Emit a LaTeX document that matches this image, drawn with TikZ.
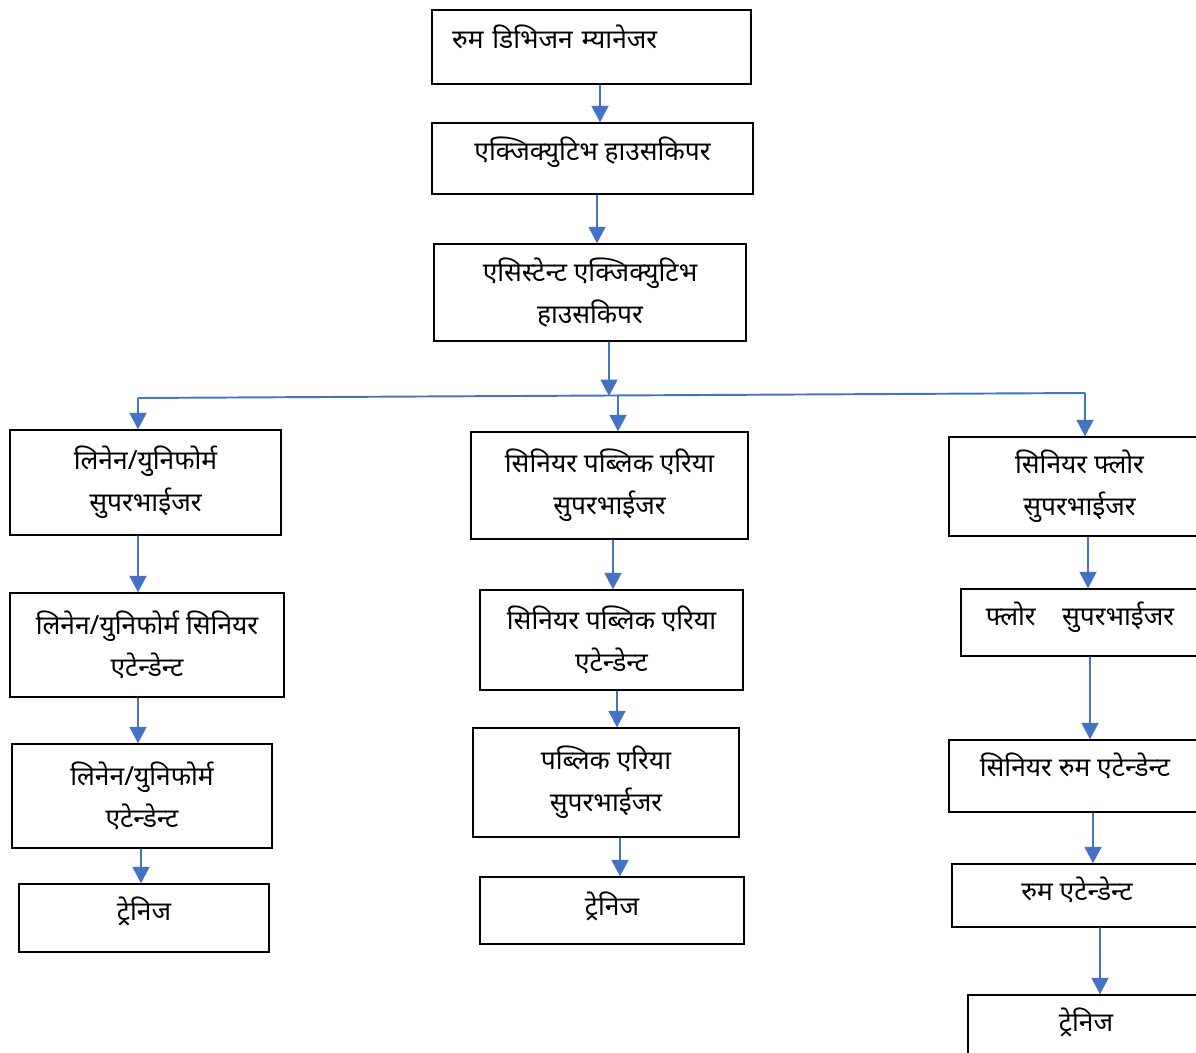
\documentclass[tikz,border=0pt]{standalone}
\usepackage{fontspec}
\setmainfont[Script=Devanagari]{Noto Sans}
\usetikzlibrary{arrows.meta}
\definecolor{linkblue}{RGB}{68,114,196}
\newcommand{\lifttext}[2]{\raisebox{#1}[\height][\depth]{#2}}
\tikzstyle{post} = [rectangle, draw=black, line width=0.8pt, align=center, inner sep=2pt]
\tikzstyle{arrow} = [draw=linkblue, line width=1.1pt, -{Triangle[width=0.34cm,length=0.33cm]}]
\tikzstyle{bus} = [draw=linkblue, line width=1.1pt]

\begin{document}
\begin{tikzpicture}[x=0.02cm, y=-0.02cm, font=\fontsize{15}{24}\selectfont]
	\useasboundingbox (0,0) rectangle (1196,1053);
	% top of the chart
	\node (room) [post, minimum width=6.38cm, minimum height=1.48cm, inner xsep=0.4cm, text width=5.58cm, align=left] at (591.5,47) {\lifttext{0.2cm}{रुम डिभिजन म्यानेजर}};
	\node (exec) [post, minimum width=6.42cm, minimum height=1.42cm] at (592.5,158.5) {\lifttext{0.12cm}{एक्जिक्युटिभ हाउसकिपर}};
	\node (asst) [post, minimum width=6.24cm, minimum height=1.94cm] at (590,292.5) {एसिस्टेन्ट एक्जिक्युटिभ\\हाउसकिपर};
	% linen / uniform
	\node (lin1) [post, minimum width=5.42cm, minimum height=2.10cm] at (145.5,482.5) {लिनेन/युनिफोर्म\\सुपरभाईजर};
	\node (lin2) [post, minimum width=5.48cm, minimum height=2.08cm] at (147,645) {लिनेन/युनिफोर्म सिनियर\\एटेन्डेन्ट};
	\node (lin3) [post, minimum width=5.20cm, minimum height=2.08cm] at (142,796) {लिनेन/युनिफोर्म\\एटेन्डेन्ट};
	\node (lin4) [post, minimum width=5.00cm, minimum height=1.36cm] at (144,918) {\lifttext{0.14cm}{ट्रेनिज}};
	% public area
	\node (pub1) [post, minimum width=5.54cm, minimum height=2.14cm] at (609.5,485.5) {सिनियर पब्लिक एरिया\\सुपरभाईजर};
	\node (pub2) [post, minimum width=5.26cm, minimum height=2.00cm] at (611.5,640) {सिनियर पब्लिक एरिया\\एटेन्डेन्ट};
	\node (pub3) [post, minimum width=5.32cm, minimum height=2.18cm] at (606,782.5) {पब्लिक एरिया\\सुपरभाईजर};
	\node (pub4) [post, minimum width=5.28cm, minimum height=1.34cm] at (612,910.5) {\lifttext{0.08cm}{ट्रेनिज}};
	% floor
	\node (flr1) [post, minimum width=5.22cm, minimum height=1.98cm] at (1079.5,486.5) {सिनियर फ्लोर\\सुपरभाईजर};
	\node (flr2) [post, minimum width=4.76cm, minimum height=1.34cm] at (1080,622.5) {\lifttext{0.1cm}{फ्लोर\quad सुपरभाईजर}};
	\node (flr3) [post, minimum width=5.04cm, minimum height=1.44cm] at (1075,776) {\lifttext{0.2cm}{सिनियर रुम एटेन्डेन्ट}};
	\node (flr4) [post, minimum width=5.00cm, minimum height=1.26cm] at (1077,895.5) {\lifttext{0.12cm}{रुम एटेन्डेन्ट}};
	\node (flr5) [post, minimum width=4.72cm, minimum height=1.40cm] at (1086,1030) {\lifttext{0.16cm}{ट्रेनिज}};
	% bus line
	\coordinate (busL) at (138,398);
	\coordinate (busR) at (1085,393);
	\coordinate (busC) at (609,396);
	\coordinate (busM) at (618,396);
	\draw [bus] (busL) -- (busR);
	\draw [arrow] ([xshift=0.17cm]room.south) -- ([xshift=0.15cm]exec.north);
	\draw [arrow] ([xshift=0.09cm]exec.south) -- ([xshift=0.14cm]asst.north);
	\draw [arrow] ([xshift=0.38cm]asst.south) -- (busC);
	\draw [arrow] (busL) -- (lin1.north -| busL);
	\draw [arrow] (busM) -- (pub1.north -| busM);
	\draw [arrow] (busR) -- (flr1.north -| busR);
	\draw [arrow] ([xshift=-0.15cm]lin1.south) -- ([xshift=-0.18cm]lin2.north);
	\draw [arrow] ([xshift=-0.18cm]lin2.south) -- ([xshift=-0.08cm]lin3.north);
	\draw [arrow] ([xshift=-0.02cm]lin3.south) -- ([xshift=-0.06cm]lin4.north);
	\draw [arrow] ([xshift=0.07cm]pub1.south) -- ([xshift=0.03cm]pub2.north);
	\draw [arrow] ([xshift=0.11cm]pub2.south) -- ([xshift=0.22cm]pub3.north);
	\draw [arrow] ([xshift=0.28cm]pub3.south) -- ([xshift=0.16cm]pub4.north);
	\draw [arrow] ([xshift=0.17cm]flr1.south) -- ([xshift=0.16cm]flr2.north);
	\draw [arrow] ([xshift=0.2cm]flr2.south) -- ([xshift=0.3cm]flr3.north);
	\draw [arrow] ([xshift=0.36cm]flr3.south) -- ([xshift=0.32cm]flr4.north);
	\draw [arrow] ([xshift=0.46cm]flr4.south) -- ([xshift=0.28cm]flr5.north);
\end{tikzpicture}
\end{document}
